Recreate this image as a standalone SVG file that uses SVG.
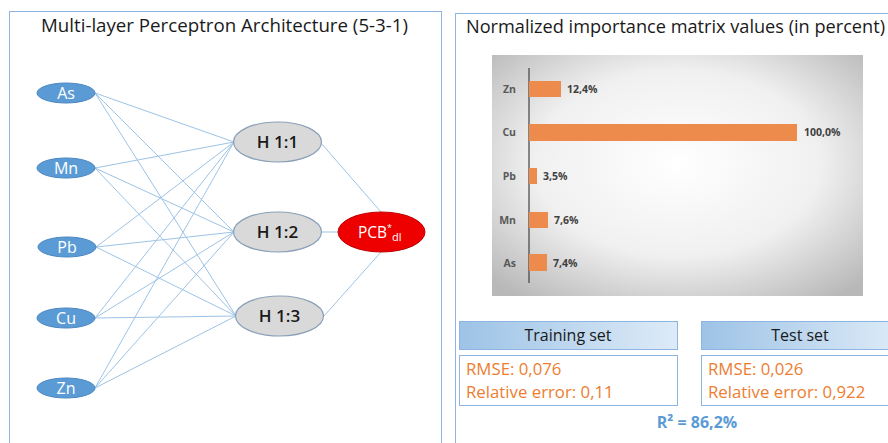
<svg xmlns="http://www.w3.org/2000/svg" width="888" height="443" viewBox="0 0 888 443">
<style>
.title{font-family:"Open Sans","Liberation Sans",sans-serif;font-size:18.5px;fill:#1a1a1a}
.in{fill:#5b9bd5;stroke:#4a86c0;stroke-width:1}
.inT{font-family:"Open Sans","Liberation Sans",sans-serif;font-size:16px;fill:#fff;text-anchor:middle}
.hid{fill:#d9d9d9;stroke:#8a9fb8;stroke-width:1.2}
.hidT{font-family:"Open Sans","Liberation Sans",sans-serif;font-size:17px;font-weight:600;fill:#1a1a1a;text-anchor:middle}
.conn line{stroke:#9dc3e6;stroke-width:1}
.cat{font-family:"Open Sans","Liberation Sans",sans-serif;font-size:10.5px;font-weight:bold;fill:#595959;text-anchor:end}
.val{font-family:"Open Sans","Liberation Sans",sans-serif;font-size:10.5px;font-weight:bold;fill:#404040}
.bar{fill:#ed8b4c}
.hdr{stroke:#8eb4e3;stroke-width:1;fill:url(#hg)}
.body{fill:#fff;stroke:#8eb4e3;stroke-width:1}
.hdrT{font-family:"Open Sans","Liberation Sans",sans-serif;font-size:16px;fill:#1a1a1a;text-anchor:middle}
.orT{font-family:"Open Sans","Liberation Sans",sans-serif;font-size:16.8px;fill:#ed7d31}
</style>
<defs>
<radialGradient id="bg" cx="50%" cy="45%" r="70%">
<stop offset="0" stop-color="#ffffff"/>
<stop offset="0.55" stop-color="#f0f0f0"/>
<stop offset="1" stop-color="#b8b8b8"/>
</radialGradient>
<linearGradient id="hg" x1="0" y1="0" x2="1" y2="0">
<stop offset="0" stop-color="#9dc3e6"/>
<stop offset="1" stop-color="#deebf7"/>
</linearGradient>
</defs>
<rect width="888" height="443" fill="#fff"/>
<rect x="9.5" y="11.5" width="432" height="440" fill="#fff" stroke="#8eb4e3" stroke-width="1"/>
<rect x="455.5" y="13.5" width="440" height="440" fill="#fff" stroke="#8eb4e3" stroke-width="1"/>
<text class="title" x="41" y="32" textLength="367" lengthAdjust="spacingAndGlyphs">Multi-layer Perceptron Architecture (5-3-1)</text>
<text class="title" x="466" y="33" style="font-size:18px" textLength="419" lengthAdjust="spacingAndGlyphs">Normalized importance matrix values (in percent)</text>

<g class="conn" id="connectors">
<line x1="95" y1="93" x2="234" y2="142"/>
<line x1="95" y1="93" x2="234" y2="232"/>
<line x1="95" y1="93" x2="236" y2="316"/>
<line x1="95" y1="168" x2="234" y2="142"/>
<line x1="95" y1="168" x2="234" y2="232"/>
<line x1="95" y1="168" x2="236" y2="316"/>
<line x1="96" y1="247" x2="234" y2="142"/>
<line x1="96" y1="247" x2="234" y2="232"/>
<line x1="96" y1="247" x2="236" y2="316"/>
<line x1="95" y1="318" x2="234" y2="142"/>
<line x1="95" y1="318" x2="234" y2="232"/>
<line x1="95" y1="318" x2="236" y2="316"/>
<line x1="95" y1="388" x2="234" y2="142"/>
<line x1="95" y1="388" x2="234" y2="232"/>
<line x1="95" y1="388" x2="236" y2="316"/>
<line x1="321" y1="143" x2="381" y2="212"/>
<line x1="321" y1="232" x2="338" y2="232"/>
<line x1="324" y1="316" x2="381" y2="252"/>
</g>

<g id="in-as"><ellipse class="in" cx="66" cy="93" rx="29" ry="10"/><text class="inT" x="66" y="98.5">As</text></g>
<g id="in-mn"><ellipse class="in" cx="66" cy="168" rx="29" ry="10"/><text class="inT" x="66" y="173.5">Mn</text></g>
<g id="in-pb"><ellipse class="in" cx="67" cy="247" rx="29" ry="10"/><text class="inT" x="67" y="252.5">Pb</text></g>
<g id="in-cu"><ellipse class="in" cx="66" cy="318" rx="29" ry="10"/><text class="inT" x="66" y="323.5">Cu</text></g>
<g id="in-zn"><ellipse class="in" cx="66" cy="388" rx="29" ry="10"/><text class="inT" x="66" y="393.5">Zn</text></g>

<g id="h11"><ellipse class="hid" cx="277.5" cy="142" rx="44" ry="20"/><text class="hidT" x="277.5" y="148">H 1:1</text></g>
<g id="h12"><ellipse class="hid" cx="277.5" cy="232" rx="44" ry="20"/><text class="hidT" x="277.5" y="238">H 1:2</text></g>
<g id="h13"><ellipse class="hid" cx="279.5" cy="316" rx="44" ry="20"/><text class="hidT" x="279.5" y="322">H 1:3</text></g>

<g id="out-pcb"><ellipse cx="381.5" cy="232" rx="43.5" ry="20" fill="#ee0000" stroke="#c00000" stroke-width="1"/>
<text x="358" y="237.5" font-family="'Open Sans','Liberation Sans',sans-serif" font-size="15.5" fill="#fff">PCB<tspan font-size="9" dy="-7">*</tspan><tspan font-size="11" dy="10">dl</tspan></text></g>

<g id="chart">
<rect x="492" y="55" width="371" height="241" fill="url(#bg)"/>
<line x1="529" y1="68" x2="529" y2="283" stroke="#404040" stroke-width="1.2"/>
<rect class="bar" x="529" y="81" width="32" height="16"/>
<rect class="bar" x="529" y="124" width="268" height="17"/>
<rect class="bar" x="529" y="168" width="8" height="16"/>
<rect class="bar" x="529" y="212" width="19" height="16"/>
<rect class="bar" x="529" y="254" width="18" height="17"/>
<text class="cat" x="516" y="93">Zn</text>
<text class="cat" x="516" y="136">Cu</text>
<text class="cat" x="516" y="180">Pb</text>
<text class="cat" x="516" y="224">Mn</text>
<text class="cat" x="516" y="267">As</text>
<text class="val" x="567" y="93">12,4%</text>
<text class="val" x="804" y="136">100,0%</text>
<text class="val" x="543" y="180">3,5%</text>
<text class="val" x="554" y="224">7,6%</text>
<text class="val" x="553" y="267">7,4%</text>
</g>

<g id="training">
<rect class="hdr" x="459.5" y="321.5" width="218" height="28"/>
<text class="hdrT" x="568" y="341">Training set</text>
<rect class="body" x="459.5" y="355.5" width="218" height="50"/>
<text class="orT" x="466" y="375">RMSE: 0,076</text>
<text class="orT" x="466" y="398">Relative error: 0,11</text>
</g>
<g id="test">
<rect class="hdr" x="701.5" y="321.5" width="200" height="28"/>
<text class="hdrT" x="800" y="341">Test set</text>
<rect class="body" x="701.5" y="355.5" width="200" height="50"/>
<text class="orT" x="708" y="375">RMSE: 0,026</text>
<text class="orT" x="708" y="398">Relative error: 0,922</text>
</g>
<text x="697" y="428" text-anchor="middle" font-family="'Open Sans','Liberation Sans',sans-serif" font-size="16" font-weight="bold" fill="#5b9bd5">R² = 86,2%</text>
</svg>
